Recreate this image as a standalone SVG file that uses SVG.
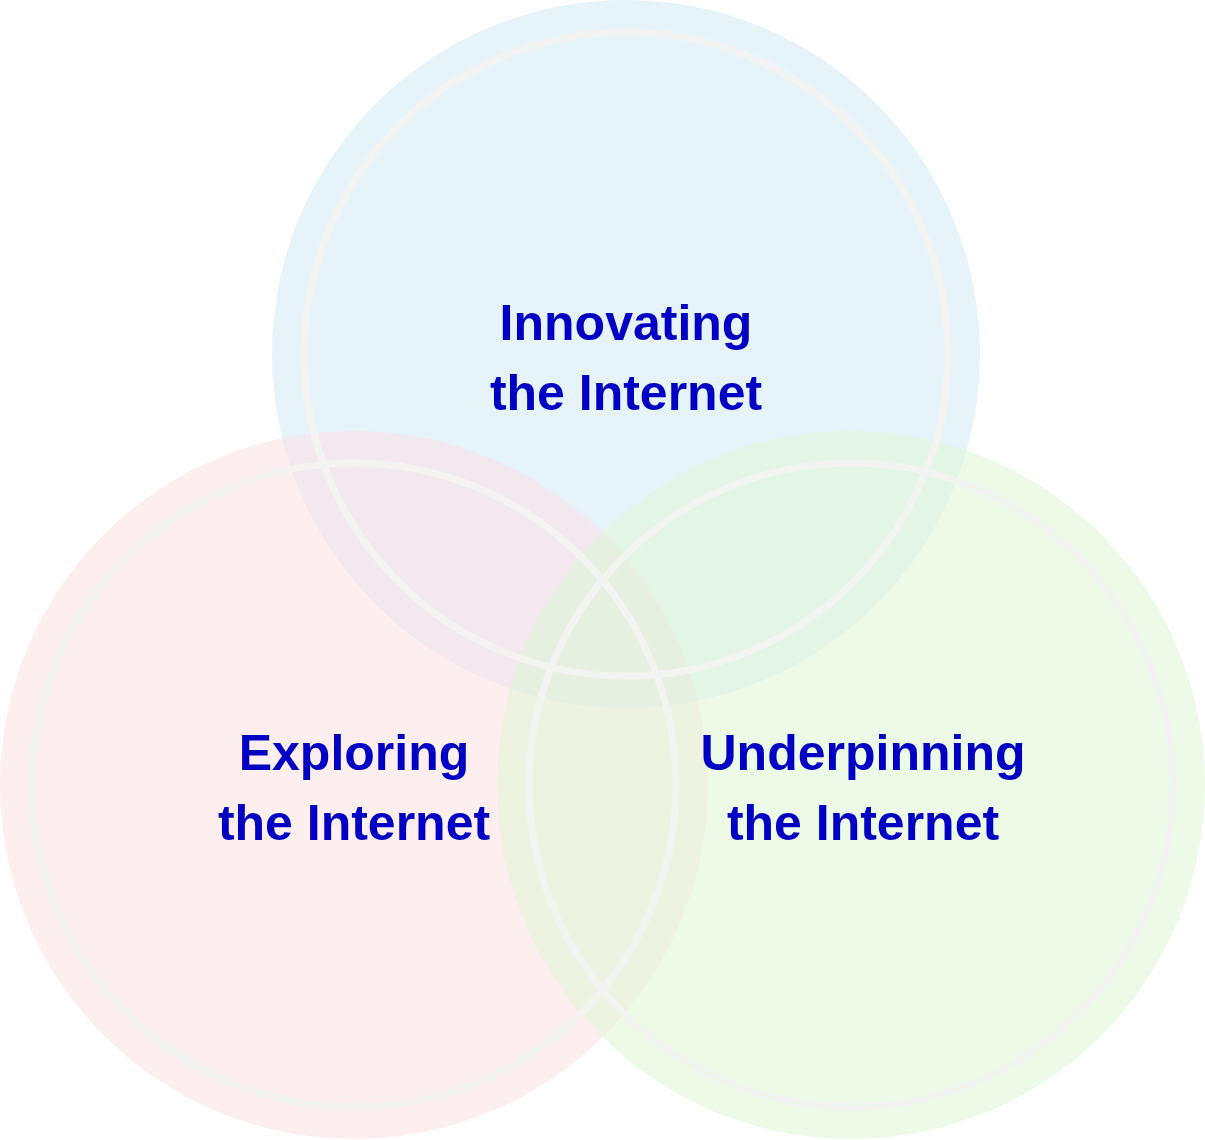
<svg xmlns="http://www.w3.org/2000/svg" width="1205" height="1140" viewBox="0 0 1205 1140">
  <style>
    .fill { fill-opacity: 0.5; stroke: none; }
    .ring { fill: none; stroke: #f3f4f2; stroke-width: 7; }
    .label { font-family: "Liberation Sans", Arial, sans-serif; font-weight: bold; font-size: 50px; fill: #0000c4; text-anchor: middle; }
  </style>
  <rect width="1205" height="1140" fill="#ffffff"/>
  <g id="fills">
    <circle id="fill-innovating" class="fill" cx="626" cy="354" r="354" fill="#cde9f5"/>
    <circle id="fill-exploring" class="fill" cx="354" cy="785" r="354" fill="#fcdde2"/>
    <circle id="fill-underpinning" class="fill" cx="851" cy="785" r="354" fill="#ddf5d1"/>
  </g>
  <g id="rings">
    <circle class="ring" cx="626" cy="354" r="322"/>
    <circle class="ring" cx="354" cy="785" r="322"/>
    <circle class="ring" cx="851" cy="785" r="322"/>
  </g>
  <g id="node-innovating">
    <text class="label" x="626" y="340">Innovating</text>
    <text class="label" x="626" y="410">the Internet</text>
  </g>
  <g id="node-exploring">
    <text class="label" x="354" y="770">Exploring</text>
    <text class="label" x="354" y="840">the Internet</text>
  </g>
  <g id="node-underpinning">
    <text class="label" x="863" y="770">Underpinning</text>
    <text class="label" x="863" y="840">the Internet</text>
  </g>
  <g id="connectors"></g>
</svg>
